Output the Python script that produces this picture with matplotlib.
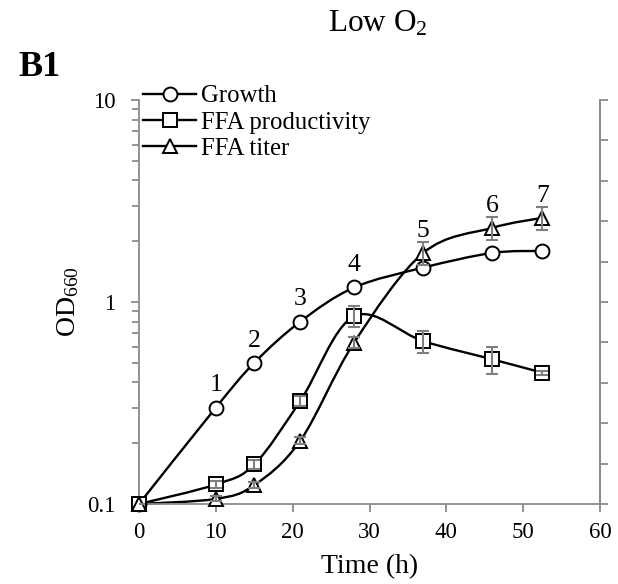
import numpy as np
import matplotlib
matplotlib.use("Agg")
import matplotlib.pyplot as plt
from matplotlib.path import Path
from matplotlib.patches import PathPatch
from matplotlib.lines import Line2D
from matplotlib.ticker import FixedLocator, NullFormatter

plt.rcParams["font.family"] = ["Liberation Serif", "DejaVu Serif"]
plt.rcParams["mathtext.fontset"] = "custom"
plt.rcParams["mathtext.rm"] = "Liberation Serif"
plt.rcParams["mathtext.it"] = "Liberation Serif:italic"
plt.rcParams["mathtext.bf"] = "Liberation Serif:bold"

# Culture data (low O2 condition)
time_h = [0, 10, 15, 21, 28, 37, 46, 52.5]
growth = [0.1, 0.30, 0.50, 0.80, 1.18, 1.48, 1.75, 1.79]
ffa_prod = [0.1, 0.125, 0.157, 0.324, 0.85, 0.64, 0.52, 0.447]
ffa_prod_err = [0, 0.005, 0.008, 0.02, 0.10, 0.08, 0.08, 0.01]
ffa_titer = [0.1, 0.106, 0.124, 0.206, 0.63, 1.75, 2.33, 2.61]
ffa_titer_err = [0, 0.003, 0.004, 0.008, 0.04, 0.23, 0.30, 0.35]

# Sampling-point numbers and the series each one is written above
sample_labels = ["1", "2", "3", "4", "5", "6", "7"]
sample_series = ["growth", "growth", "growth", "growth", "titer", "titer", "titer"]

series_names = ["Growth", "FFA productivity", "FFA titer"]
x_ticks = [0, 10, 20, 30, 40, 50, 60]
y_ticks = [0.1, 1, 10]
y_tick_labels = ["0.1", "1", "10"]

GRAY = "#8a8a8a"


def smooth_path(x, y):
    """Catmull-Rom style Bezier through the points, built in (x, log10 y)."""
    pts = np.column_stack([np.asarray(x, float), np.log10(np.asarray(y, float))])
    n = len(pts)
    verts = [pts[0]]
    codes = [Path.MOVETO]
    for i in range(n - 1):
        p0 = pts[max(i - 1, 0)]
        p1 = pts[i]
        p2 = pts[i + 1]
        p3 = pts[min(i + 2, n - 1)]
        c1 = p1 + (p2 - p0) / 6.0
        c2 = p2 - (p3 - p1) / 6.0
        verts += [c1, c2, p2]
        codes += [Path.CURVE4] * 3
    v = np.array(verts)
    v[:, 1] = 10 ** v[:, 1]
    return Path(v, codes)


fig = plt.figure(figsize=(6.18, 5.84), dpi=100)
ax = fig.add_axes([139 / 618, 80 / 584, 461 / 618, 404 / 584])

marker_kw = dict(linestyle="none", ms=10, mfc="white", mec="black", mew=1.4,
                 zorder=3, clip_on=False)
line_kw = dict(fill=False, ec="black", lw=1.7, zorder=2, clip_on=False)

for yvals, mk in [(growth, "o"), (ffa_prod, "s"), (ffa_titer, "^")]:
    ax.add_patch(PathPatch(smooth_path(time_h, yvals), **line_kw))
    ax.plot(time_h, yvals, marker=mk, **marker_kw)

err_kw = dict(fmt="none", ecolor="#7f7f7f", elinewidth=1.5, capsize=4,
              capthick=1.5, zorder=4)
ax.errorbar(time_h, ffa_prod, yerr=ffa_prod_err, **err_kw)
ax.errorbar(time_h, ffa_titer, yerr=ffa_titer_err, **err_kw)

# Sampling point numbers
series_lookup = {"growth": growth, "titer": ffa_titer}
for i, (lab, s) in enumerate(zip(sample_labels, sample_series)):
    idx = i + 1
    ax.annotate(lab, (time_h[idx], series_lookup[s][idx]),
                xytext=(0, 16), textcoords="offset points",
                ha="center", va="center", fontsize=18.5)

ax.set_yscale("log")
ax.set_xlim(0, 60)
ax.set_ylim(0.1, 10)
ax.set_xticks(x_ticks)
ax.set_xticklabels([str(t) for t in x_ticks])
ax.yaxis.set_major_locator(FixedLocator(y_ticks))
ax.set_yticklabels(y_tick_labels)
minor = [m * 10.0 ** e for e in (-1, 0) for m in range(2, 10)]
ax.yaxis.set_minor_locator(FixedLocator(minor))
ax.yaxis.set_minor_formatter(NullFormatter())

for sp in ["left", "bottom", "right"]:
    ax.spines[sp].set_color(GRAY)
    ax.spines[sp].set_linewidth(1.3)
ax.spines["top"].set_visible(False)
ax.tick_params(axis="both", which="major", direction="out", length=6,
               width=1.3, color=GRAY, labelsize=16.5)
ax.tick_params(axis="y", which="minor", direction="out", length=5,
               width=1.3, color=GRAY)
ax.tick_params(axis="y", which="both", pad=11)
ax.tick_params(axis="x", pad=7)

ax.set_xlabel("Time (h)", fontsize=20, labelpad=8)
ax.set_ylabel(r"OD$_{660}$", fontsize=20, labelpad=4)

# Secondary axis: unlabeled linear ticks
ax2 = ax.twinx()
ax2.set_ylim(0, 10)
ax2.set_yticks(range(11))
ax2.set_yticklabels([])
for sp in ["left", "bottom", "top"]:
    ax2.spines[sp].set_visible(False)
ax2.spines["right"].set_color(GRAY)
ax2.spines["right"].set_linewidth(1.3)
ax2.tick_params(axis="y", direction="out", length=6, width=1.3, color=GRAY)

handles = [
    Line2D([], [], color="black", lw=1.7, marker=m, ms=10, mfc="white",
           mec="black", mew=1.4)
    for m in ["o", "s", "^"]
]
fig.legend(handles, series_names, loc="upper left",
           bbox_to_anchor=(143 / 618, 1 - 85 / 584), frameon=False,
           fontsize=17.8, handlelength=2.15, handletextpad=0.2,
           labelspacing=0.16, borderpad=0, borderaxespad=0)

fig.text(378 / 618, 1 - 32 / 584, r"Low O$_2$", fontsize=22.5,
         ha="center", va="baseline")
fig.text(18 / 618, 1 - 67 / 584, "B1", fontsize=26, fontweight="bold",
         ha="left", va="center")

fig.savefig("out.png", dpi=100)
